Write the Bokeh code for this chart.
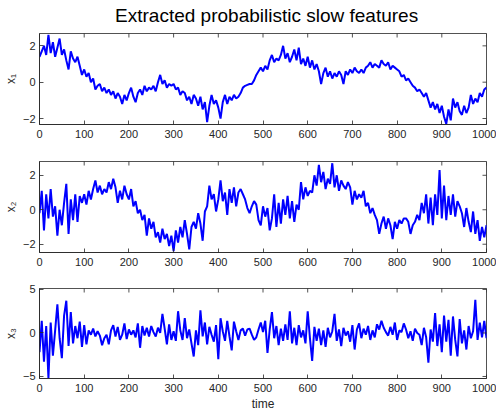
import numpy as np
from bokeh.plotting import figure
from bokeh.layouts import column
from bokeh.models import Range1d, FixedTicker
from bokeh.core.properties import value
from bokeh.embed import file_html
from bokeh.resources import INLINE

time = list(range(0, 1001, 5))

x1 = [
    1.4, 1.7, 2.0, 1.5, 2.6, 1.6, 2.2, 1.4, 1.9, 2.4,
    1.5, 1.8, 1.2, 0.7, 1.7, 1.3, 1.1, 1.4, 0.9, 0.4,
    0.7, 0.3, 0.5, 0.0, 0.2, -0.4, -0.2, -0.1, -0.5, -0.3,
    -0.6, -0.4, -0.7, -0.5, -0.9, -0.6, -0.8, -1.2, -0.7, -1.0,
    -0.6, -0.3, -0.8, -1.1, -0.6, -0.4, -0.7, -0.2, -0.5, -0.3,
    -0.4, -0.2, -0.5, 0.0, 0.4, -0.1, 0.1, -0.3, -0.1, -0.2,
    -0.1, -0.4, -0.3, -0.7, -0.5, -0.6, -1.0, -0.8, -1.2, -0.7,
    -0.9, -1.3, -0.8, -1.5, -1.1, -2.2, -1.3, -0.7, -1.2, -1.0,
    -1.4, -2.0, -1.1, -0.7, -1.2, -0.8, -1.0, -0.7, -0.9, -0.8,
    -0.6, -0.3, -0.2, -0.15, -0.1, -0.1, 0.1, 0.4, 0.6, 0.8,
    0.6, 0.9, 0.7, 1.2, 1.5, 1.1, 1.3, 1.2, 1.5, 2.0,
    1.3, 1.6, 1.1, 1.4, 1.8, 1.2, 1.9, 1.0, 1.3, 0.9,
    1.4, 0.8, 1.2, 0.7, 1.0, 0.6, -0.1, 0.5, 0.8, 0.3,
    0.6, 0.2, 0.5, 0.3, 0.6, 0.4, -0.1, 0.6, 0.4, 0.7,
    0.5, 0.8, 0.6, 0.5, 0.7, 0.5, 0.8, 0.9, 1.1, 0.8,
    1.0, 0.9, 0.8, 1.2, 1.0, 0.9, 1.1, 0.7, 0.9, 0.8,
    0.7, 0.6, 0.3, 0.4, 0.1, 0.2, 0.0, -0.2, -0.3, -0.5,
    -0.4, -0.6, -0.8, -0.6, -1.0, -1.4, -1.1, -1.5, -1.2, -1.7,
    -1.3, -1.9, -2.3, -1.5, -2.1, -0.9, -1.4, -1.1, -1.6, -1.8,
    -1.3, -1.7, -1.4, -0.7, -1.2, -0.9, -1.1, -0.6, -0.8, -0.4,
    -0.3,
]

x2 = [
    -0.2, 1.1, -1.2, 0.9, -0.5, 1.2, -0.4, 0.2, -1.5, 0.0,
    -0.9, 0.4, 1.5, -1.4, 0.6, -0.6, 0.9, -0.7, 0.8, 0.4,
    0.9, 0.3, 1.1, 0.6, 1.2, 1.7, 1.0, 1.4, 0.9, 1.2,
    1.0, 1.6, 1.2, 1.8, 1.3, 0.4, 1.1, 0.6, 1.4, 0.9,
    0.6, 1.2, 0.2, 0.5, -0.2, 0.0, -0.6, -0.3, -1.5, -0.5,
    -1.1, -0.7, -1.6, -1.3, -1.9, -1.1, -1.7, -1.4, -2.1, -1.5,
    -2.4, -1.2, -1.9, -1.0, -1.6, -0.6, -1.4, -2.3, -1.0, -0.7,
    -1.1, -0.2, -0.8, -1.8, -0.1, 0.2, 1.4, 0.6, 0.9, -0.1,
    0.6, 1.7, 0.5, 1.0, -0.3, 1.2, 0.4, 1.3, 0.2, 1.0,
    1.2, 0.9, 0.6, 0.1, -0.2, 0.2, 0.5, 0.3, -0.6, -0.9,
    0.2, -0.4, 0.1, -1.2, -0.5, 0.9, -1.0, 0.4, -0.8, 0.6,
    -0.3, 0.8, -0.5, 0.5, -0.7, 0.3, 0.0, 1.6, 0.6, 1.3,
    0.8, 1.1, 1.0, 2.0, 1.4, 2.6, 1.6, 2.2, 1.2, 1.8,
    1.5, 2.7, 1.3, 2.0, 1.1, 1.7, 1.4, 1.2, 1.6, 1.3,
    0.3, 1.1, 0.6, 0.9, 0.7, 1.1, 0.2, 0.4, -0.2, 0.1,
    -0.3, -0.6, -1.4, -0.8, -0.4, -1.1, -0.5, -0.9, -1.7, -0.7,
    -1.1, -0.6, -0.8, -0.5, -0.5, -0.7, -1.4, -0.9, -0.7, -0.3,
    -0.6, 0.4, -0.2, 0.9, -0.8, 0.7, -0.9, 0.9, -0.3, 2.3,
    -0.5, 1.4, -0.6, 0.8, -0.3, 0.9, -0.4, 0.5, 0.2, -0.2,
    -1.0, 0.1, -0.7, -1.3, -0.1, -1.4, -0.6, -1.8, -1.0, -1.6,
    -0.9,
]

x3 = [
    -2.2, 1.4, -3.3, 0.8, -5.2, 1.2, -2.6, 0.3, 3.3, -0.6,
    -2.9, 2.0, 3.7, -1.5, 2.4, -1.2, 0.8, -0.6, 1.3, -1.6,
    0.9, -1.3, 0.3, -0.2, 0.5, -0.4, 0.2, -0.3, -1.4, -0.6,
    -0.2, -1.3, 0.3, 0.9, -0.4, 0.7, -0.8, -0.2, 1.1, -0.7,
    0.4, -0.2, 0.3, -0.5, 1.1, -1.7, 0.8, -0.3, 0.6, -0.4,
    0.8, 0.1, -0.4, 0.6, 0.0, 2.2, 0.5, -1.3, 1.0, -0.8,
    0.2, -0.9, 2.5, 0.3, -0.8, 1.7, -0.6, 0.4, -1.2, -2.7,
    0.3, -1.4, 2.6, -0.4, 1.2, -1.3, 0.7, -0.2, -1.0, 0.9,
    -3.0, 1.7, 0.2, -0.9, 1.4, -0.4, -2.0, 1.3, 0.2, -0.8,
    0.3, 0.5, -0.3, 0.4, 0.5, -0.2, -0.8, -0.5, 0.4, 1.2,
    0.1, 1.4, -2.3, 0.4, 2.4, -0.6, 0.8, -1.4, 0.5, -0.9,
    1.0, -0.8, 2.5, -1.2, 0.6, -1.4, 0.9, -0.5, 0.3, -1.2,
    2.5, -0.6, -3.2, 0.7, -0.9, 0.5, -1.4, 0.3, -1.6, 0.6,
    -0.5, 0.2, 2.2, -0.9, 0.4, -1.5, 0.6, -0.3, 0.2, -1.0,
    0.9, -1.9, 0.4, 1.1, -0.6, 0.5, -0.2, 0.8, -0.8, 0.3,
    -0.5, 1.0, 0.4, 1.4, 0.6, 0.1, -0.3, 0.7, -0.2, 1.2,
    -0.8, 0.3, 0.1, 1.1, 0.4, -0.6, 0.2, -0.9, 0.5, 0.0,
    -0.2, -1.4, 0.6, -0.5, -3.4, 0.4, -1.0, 2.3, -1.5, 1.0,
    -2.2, 2.0, -1.0, 1.5, -2.6, 1.9, -0.8, -2.7, 1.6, -1.2,
    0.3, -1.9, 0.8, -0.6, 0.2, 3.8, -0.8, 1.2, -0.5, 1.4,
    -0.6,
]

x_ticks = [0, 100, 200, 300, 400, 500, 600, 700, 800, 900, 1000]
y_ticks_1 = [-2, 0, 2]
y_ticks_2 = [-2, 0, 2]
y_ticks_3 = [-5, 0, 5]
title_text = "Extracted probabilistic slow features"
x_label = "time"
y_labels = ["x\u2081", "x\u2082", "x\u2083"]

# ---------------- styling ----------------
AX = "#262626"
FONT = "Liberation Sans"
X_MIN, X_MAX = 0, 1000
W = 496
TITLE_H = 28


def style_axis(ax):
    ax.axis_line_color = AX
    ax.axis_line_width = 0.8
    ax.major_tick_line_color = AX
    ax.major_tick_line_width = 0.8
    ax.major_tick_in = 4
    ax.major_tick_out = 0
    ax.minor_tick_line_color = None
    ax.major_label_text_font = FONT
    ax.major_label_text_color = AX
    ax.major_label_text_font_size = "11px"
    ax.major_label_standoff = 4
    ax.axis_label_text_font = FONT
    ax.axis_label_text_color = AX
    ax.axis_label_text_font_style = "normal"
    ax.axis_label_text_font_size = "12px"


def panel(y, yr, yticks, ylabel, height, top, bottom, xlabel=None):
    p = figure(width=W, height=height, output_backend="svg", toolbar_location=None,
               x_range=Range1d(X_MIN, X_MAX), y_range=Range1d(*yr),
               min_border_left=39, min_border_right=10,
               min_border_top=top, min_border_bottom=bottom)
    p.grid.visible = False
    p.outline_line_color = AX
    p.outline_line_width = 0.8
    p.background_fill_color = "white"
    p.border_fill_color = "white"

    p.line(time, y, line_color="#0000ff", line_width=2.0)

    p.xaxis.ticker = FixedTicker(ticks=x_ticks)
    p.yaxis.ticker = FixedTicker(ticks=yticks)
    style_axis(p.xaxis[0])
    style_axis(p.yaxis[0])
    p.xaxis.major_label_standoff = 5
    p.yaxis.axis_label = ylabel
    p.yaxis.axis_label_standoff = 2
    if xlabel:
        p.xaxis.axis_label = xlabel
        p.xaxis.axis_label_standoff = 2

    # inward ticks on the top and right edges of the box (half of each dash is clipped away)
    p.scatter(x_ticks, [yr[1]] * len(x_ticks), marker="dash", size=8, angle=np.pi / 2,
              line_color=AX, line_width=0.8)
    p.scatter([X_MAX] * len(yticks), yticks, marker="dash", size=8, angle=0,
              line_color=AX, line_width=0.8)
    return p


# title strip: a bare figure whose ranges are in pixels
pt = figure(width=W, height=TITLE_H, output_backend="svg", toolbar_location=None,
            x_range=Range1d(0, W), y_range=Range1d(0, TITLE_H),
            min_border=0)
pt.axis.visible = False
pt.grid.visible = False
pt.outline_line_color = None
pt.text(x=[252], y=[TITLE_H - 15], text=[title_text], text_align="center",
        text_baseline="middle", text_font=value(FONT), text_font_size="19px",
        text_color="#000000")

p1 = panel(x1, (-2.33, 2.68), y_ticks_1, y_labels[0], 144 - TITLE_H, 33 - TITLE_H, 20)
p2 = panel(x2, (-2.48, 2.8), y_ticks_2, y_labels[1], 128, 17, 20)
p3 = panel(x3, (-5.23, 5.11), y_ticks_3, y_labels[2], 141, 16, 34, xlabel=x_label)

layout = column(pt, p1, p2, p3, spacing=0)

with open("out.html", "w") as f:
    f.write(file_html(layout, INLINE))
